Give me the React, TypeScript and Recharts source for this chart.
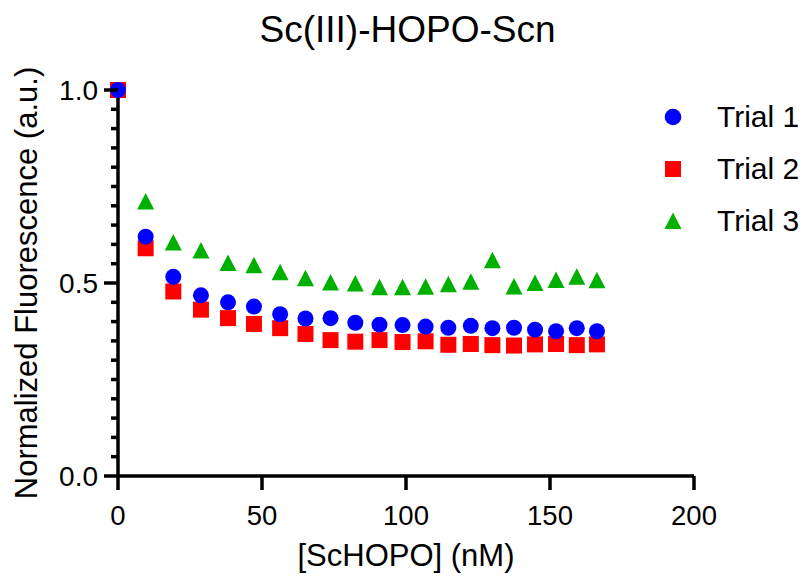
import React from 'react';
import { ScatterChart, Scatter, XAxis, YAxis } from 'recharts';

// [ScHOPO] (nM)
const concentrations = [0, 9.6, 19.2, 28.8, 38.2, 47.2, 56.3, 65.1, 73.8, 82.4, 90.8, 98.8, 106.8, 114.7, 122.5, 130.0, 137.5, 144.8, 152.1, 159.3, 166.3];
const trial1 = [1.0, 0.620, 0.516, 0.468, 0.450, 0.439, 0.419, 0.408, 0.409, 0.397, 0.392, 0.391, 0.387, 0.384, 0.389, 0.383, 0.384, 0.379, 0.375, 0.383, 0.375];
const trial2 = [1.0, 0.590, 0.478, 0.431, 0.409, 0.394, 0.383, 0.368, 0.352, 0.348, 0.352, 0.347, 0.349, 0.340, 0.342, 0.339, 0.338, 0.341, 0.342, 0.339, 0.341];
const trial3 = [1.0, 0.711, 0.605, 0.584, 0.552, 0.546, 0.528, 0.512, 0.501, 0.499, 0.489, 0.489, 0.490, 0.497, 0.503, 0.559, 0.491, 0.500, 0.508, 0.516, 0.507];

const xTicks = [0, 50, 100, 150, 200];
const yTicks = [0, 0.05, 0.1, 0.15, 0.2, 0.25, 0.3, 0.35, 0.4, 0.45, 0.5, 0.55, 0.6, 0.65, 0.7, 0.75, 0.8, 0.85, 0.9, 0.95, 1.0];
const yLabelTicks = [0, 0.5, 1.0];
const seriesNames = ['Trial 1', 'Trial 2', 'Trial 3'];
const titleText = 'Sc(III)-HOPO-Scn';
const xTitle = '[ScHOPO] (nM)';
const yTitle = 'Normalized Fluorescence (a.u.)';

const FONT = '"Liberation Sans", Arial, Helvetica, sans-serif';
const BLUE = '#0000FF';
const RED = '#FF0000';
const GREEN = '#00B000';

const toPoints = (vals: number[]) => concentrations.map((x, i) => ({ x, y: vals[i] }));
const data1 = toPoints(trial1);
const data2 = toPoints(trial2);
const data3 = toPoints(trial3);

const CircleShape = (p: any) => <circle cx={p.cx} cy={p.cy} r={8} fill={BLUE} />;
const SquareShape = (p: any) => <rect x={p.cx - 8} y={p.cy - 8} width={16} height={16} fill={RED} />;
const TriShape = (p: any) => (
  <polygon points={`${p.cx},${p.cy - 8.5} ${p.cx + 8.5},${p.cy + 8} ${p.cx - 8.5},${p.cy + 8}`} fill={GREEN} />
);

const YTick = (props: any) => {
  const { x, y, payload } = props;
  const v = payload.value as number;
  const major = yLabelTicks.some((t) => Math.abs(t - v) < 1e-6);
  return (
    <g>
      <line x1={x - (major ? 14 : 7)} x2={x} y1={y} y2={y} stroke="#000" strokeWidth={3.5} />
      {major && (
        <text x={x - 20} y={y} dy="0.36em" textAnchor="end" fontSize={28} fontFamily={FONT} fill="#000">
          {v.toFixed(1)}
        </text>
      )}
    </g>
  );
};

const XTick = (props: any) => {
  const { x, y, payload } = props;
  return (
    <g>
      <line x1={x} x2={x} y1={y} y2={y + 14} stroke="#000" strokeWidth={3.5} />
      <text x={x} y={y + 39} dy="0.36em" textAnchor="middle" fontSize={27.5} fontFamily={FONT} fill="#000">
        {payload.value}
      </text>
    </g>
  );
};

const legendShapes = [
  <circle cx={10} cy={10} r={8.3} fill={BLUE} />,
  <rect x={2} y={2} width={16} height={16} fill={RED} />,
  <polygon points="10,1.5 18.5,18 1.5,18" fill={GREEN} />,
];

export default function App() {
  return (
    <div style={{ position: 'absolute', left: 0, top: 0, width: 807, height: 577, background: '#fff', fontFamily: FONT }}>
      <ScatterChart width={807} height={577} margin={{ top: 90, right: 113, bottom: 0, left: 0 }}>
        <XAxis
          type="number"
          dataKey="x"
          domain={[0, 200]}
          ticks={xTicks}
          interval={0}
          height={101}
          tickSize={0}
          tickMargin={0}
          tickLine={false}
          axisLine={{ stroke: '#000', strokeWidth: 3.5 }}
          tick={<XTick />}
        />
        <YAxis
          type="number"
          dataKey="y"
          domain={[0, 1]}
          ticks={yTicks}
          interval={0}
          width={118}
          tickSize={0}
          tickMargin={0}
          tickLine={false}
          axisLine={{ stroke: '#000', strokeWidth: 3.5 }}
          tick={<YTick />}
        />
        <Scatter name={seriesNames[2]} data={data3} shape={TriShape} isAnimationActive={false} />
        <Scatter name={seriesNames[1]} data={data2} shape={SquareShape} isAnimationActive={false} />
        <Scatter name={seriesNames[0]} data={data1} shape={CircleShape} isAnimationActive={false} />
      </ScatterChart>

      <div style={{ position: 'absolute', left: 0, width: 807, top: 10, textAlign: 'center', fontSize: 37, lineHeight: '40px', color: '#000', paddingLeft: 8, boxSizing: 'border-box' }}>
        {titleText}
      </div>

      <div style={{ position: 'absolute', left: 106, width: 600, top: 538, textAlign: 'center', fontSize: 31, lineHeight: '36px', color: '#000' }}>
        {xTitle}
      </div>

      <div
        style={{
          position: 'absolute',
          left: 27 - 250,
          top: 283 - 18,
          width: 500,
          height: 36,
          lineHeight: '36px',
          textAlign: 'center',
          fontSize: 31,
          color: '#000',
          transform: 'rotate(-90deg)',
          transformOrigin: '250px 18px',
          whiteSpace: 'nowrap',
        }}
      >
        {yTitle}
      </div>

      {seriesNames.map((name, i) => (
        <div key={name} style={{ position: 'absolute', left: 663, top: 117 + i * 52 - 18, height: 36, display: 'flex', alignItems: 'center' }}>
          <svg width={20} height={20} style={{ display: 'block' }}>{legendShapes[i]}</svg>
          <span style={{ marginLeft: 34, fontSize: 30, lineHeight: '36px', color: '#000', whiteSpace: 'nowrap' }}>{name}</span>
        </div>
      ))}
    </div>
  );
}
